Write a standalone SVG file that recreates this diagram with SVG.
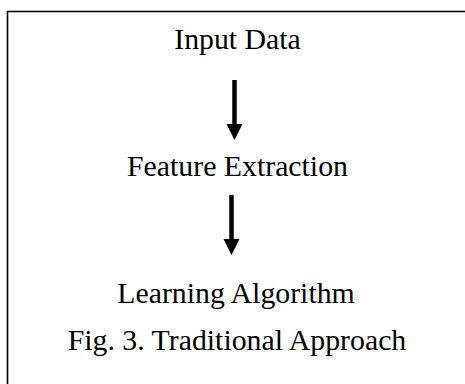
<svg xmlns="http://www.w3.org/2000/svg" width="465" height="384" viewBox="0 0 465 384">
<style>
.t{font-family:"Liberation Serif","Times New Roman",serif;font-size:29.8px;fill:#000;text-anchor:middle}
.c{stroke:#000;stroke-width:4.5;fill:none}
.h{fill:#000}
</style>
<rect width="465" height="384" fill="#fff"/>
<g id="frame">
<path d="M7.5,400 L7.5,11.5 L480,11.5" fill="none" stroke="#000" stroke-width="1.6"/>
</g>
<g id="input-data"><text class="t" x="237.5" y="49">Input Data</text></g>
<g id="feature-extraction"><text class="t" x="237.5" y="175.5">Feature Extraction</text></g>
<g id="learning-algorithm"><text class="t" x="236" y="303">Learning Algorithm</text></g>
<g id="caption"><text class="t" x="237" y="350">Fig. 3. Traditional Approach</text></g>
<g id="connectors">
<line class="c" x1="234.5" y1="80" x2="234.5" y2="126"/>
<path class="h" d="M226.5,124 L242.5,124 L234.5,140 Z"/>
<line class="c" x1="231.5" y1="195" x2="231.5" y2="241"/>
<path class="h" d="M223.5,239 L239.5,239 L231.5,255 Z"/>
</g>
</svg>
